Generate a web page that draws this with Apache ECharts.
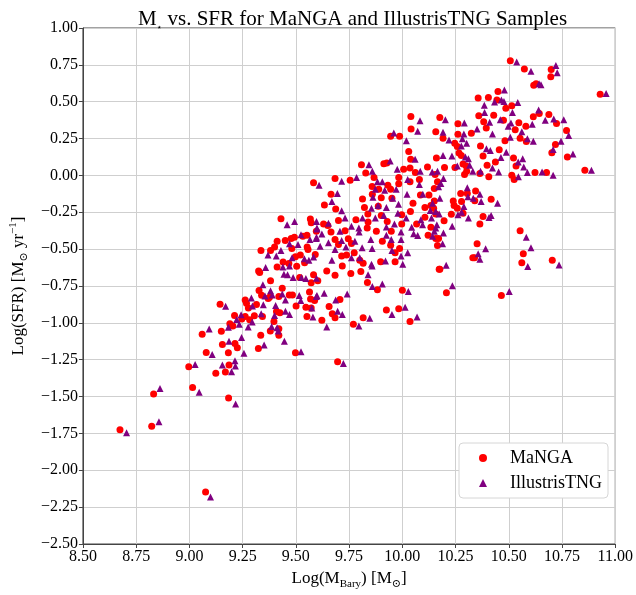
<!DOCTYPE html>
<html>
<head>
<meta charset="utf-8">
<script src="https://cdn.jsdelivr.net/npm/echarts@6/dist/echarts.min.js"></script>
<style>html,body{margin:0;padding:0;background:#fff}#c{width:636px;height:595px}</style>
</head>
<body>
<div id="c"></div>
<script>
const xTicks = [8.5, 8.75, 9.0, 9.25, 9.5, 9.75, 10.0, 10.25, 10.5, 10.75, 11.0];
const yTicks = [-2.5, -2.25, -2.0, -1.75, -1.5, -1.25, -1.0, -0.75, -0.5, -0.25, 0.0, 0.25, 0.5, 0.75, 1.0];
const seriesNames = ['MaNGA', 'IllustrisTNG'];

const manga = [
[8.674,-1.725],[8.823,-1.702],[8.832,-1.483],[8.997,-1.297],[9.015,-1.438],[9.076,-2.148],[9.060,-1.077],[9.079,-1.201],
[9.124,-1.342],[9.144,-0.874],[9.150,-1.057],[9.155,-1.147],[9.169,-1.333],[9.183,-1.203],[9.184,-1.510],[9.186,-1.286],
[9.190,-1.006],[9.204,-1.021],[9.212,-0.950],[9.214,-1.140],[9.225,-1.169],[9.246,-0.974],[9.262,-0.957],[9.262,-0.845],
[9.268,-0.867],[9.283,-0.979],[9.305,-0.952],
[9.583,-0.050],[9.430,-0.294],[9.568,-0.296],[9.572,-0.321],[9.412,-0.446],[9.450,-0.442],[9.478,-0.428],[9.493,-0.419],
[9.336,-0.509],[9.381,-0.509],[9.400,-0.486],[9.481,-0.496],[9.521,-0.540],[9.553,-0.486],[9.325,-0.648],[9.330,-0.659],
[9.412,-0.621],[9.440,-0.587],[9.381,-0.715],[9.467,-0.598],[9.498,-0.551],[9.504,-0.616],[9.518,-0.692],[9.572,-0.728],
[9.583,-0.674],[9.436,-0.766],[9.327,-0.780],[9.339,-0.813],[9.376,-0.827],[9.420,-0.822],[9.469,-0.811],[9.484,-0.811],
[9.564,-0.791],[9.588,-0.849],[9.315,-0.876],[9.370,-0.835],[9.277,-0.899],[9.409,-0.923],[9.425,-0.932],[9.501,-0.885],
[9.547,-0.894],[9.572,-0.899],[9.343,-0.957],[9.397,-0.990],[9.552,-0.957],[9.380,-1.055],[9.420,-1.040],[9.335,-1.084],
[9.420,-1.084],[9.324,-1.174],[9.498,-1.203],
[10.041,0.315],[10.157,0.297],[9.945,0.266],[9.987,0.266],[10.030,0.163],[10.039,0.109],[9.808,0.073],[9.913,0.080],
[9.927,0.085],[10.006,0.042],[10.036,0.051],[10.061,0.020],[10.118,0.058],[9.828,0.017],[9.867,-0.014],[9.983,-0.014],
[9.684,-0.021],[9.755,-0.032],[10.036,-0.043],[10.080,-0.028],[10.165,-0.043],[9.858,-0.075],[9.889,-0.093],[9.932,-0.066],
[9.945,-0.093],[9.983,-0.057],[9.859,-0.128],[9.665,-0.128],[9.813,-0.160],[9.901,-0.151],[9.951,-0.155],[10.085,-0.133],
[10.125,-0.133],[9.634,-0.200],[9.687,-0.227],[9.822,-0.218],[9.887,-0.209],[10.050,-0.189],[10.106,-0.218],[10.134,-0.204],
[9.838,-0.261],[9.901,-0.271],[9.997,-0.267],[10.038,-0.245],[10.106,-0.283],[10.157,-0.261],[9.700,-0.305],[9.782,-0.301],
[9.839,-0.316],[9.929,-0.312],[9.997,-0.330],[10.067,-0.330],[9.630,-0.330],[9.650,-0.339],[9.835,-0.357],[10.134,-0.352],
[9.731,-0.375],[9.878,-0.379],[9.948,-0.379],[9.596,-0.379],[9.665,-0.383],[10.121,-0.406],[10.170,-0.428],[9.552,-0.406],
[9.533,-0.413],[9.684,-0.435],[9.746,-0.430],[9.700,-0.469],[9.761,-0.462],[9.906,-0.446],[9.945,-0.473],[9.987,-0.496],
[9.557,-0.502],[9.591,-0.536],[9.715,-0.547],[9.800,-0.576],[9.816,-0.596],[9.898,-0.585],[9.966,-0.585],[9.966,-0.525],
[9.541,-0.592],[10.040,0.400],
[9.738,-0.540],[9.774,-0.525],[9.718,-0.614],[9.645,-0.648],[9.758,-0.666],[9.805,-0.652],[9.684,-0.677],[9.603,-0.715],
[9.836,-0.726],[9.883,-0.775],[10.000,-0.778],[9.569,-0.838],[9.707,-0.842],[9.656,-0.889],[9.671,-0.939],[9.684,-0.966],
[9.622,-0.983],[9.816,-0.966],[9.925,-0.912],[9.983,-0.905],[9.770,-1.010],[10.036,-0.990],[9.696,-1.263],[10.173,-0.636],
[10.507,0.778],[10.573,0.722],[10.699,0.718],[10.697,0.669],[10.617,0.612],[10.628,0.622],[10.449,0.570],[10.929,0.550],
[10.356,0.525],[10.404,0.528],[10.444,0.512],[10.486,0.456],[10.514,0.472],[10.643,0.420],[10.688,0.414],[10.176,0.393],
[10.615,0.398],[10.359,0.404],[10.429,0.409],[10.382,0.364],[10.475,0.375],[10.724,0.353],[10.261,0.351],[10.547,0.357],
[10.394,0.322],[10.580,0.333],[10.530,0.310],[10.324,0.286],[10.261,0.279],[10.771,0.304],[10.191,0.252],[10.553,0.252],
[10.482,0.236],[10.246,0.219],[10.582,0.230],[10.258,0.196],[10.367,0.199],[10.719,0.210],[10.455,0.174],[10.702,0.154],
[10.160,0.118],[10.379,0.132],[10.522,0.118],[10.775,0.125],[10.266,0.152],[10.277,0.136],[10.437,0.091],[10.285,0.078],
[10.198,0.053],[10.247,0.053],[10.300,0.064],[10.398,0.069],[10.534,0.064],[10.302,0.028],[10.364,0.013],[10.292,0.006],
[10.623,0.020],[10.677,0.020],[10.857,0.035],[10.514,0.001],[10.406,-0.009],
[10.154,0.006],[10.525,-0.028],[10.150,-0.088],[10.344,-0.106],[10.274,-0.122],[10.305,-0.122],[10.417,-0.162],[10.239,-0.173],
[10.278,-0.177],[10.340,-0.171],[10.150,-0.173],[10.243,-0.204],[10.258,-0.222],[10.147,-0.222],[10.230,-0.263],[10.285,-0.256],
[10.379,-0.278],[10.196,-0.308],[10.364,-0.330],[10.553,-0.375],[10.157,-0.428],[10.165,-0.475],[10.351,-0.464],[10.568,-0.531],
[10.331,-0.558],[10.339,-0.558],[10.561,-0.592],[10.704,-0.576],[10.176,-0.636],[10.207,-0.795],[10.465,-0.815]
];

const tng = [
[9.170,-0.887],[9.093,-1.042],[9.183,-1.030],[9.186,-1.124],[9.107,-1.214],[9.222,-0.977],[9.234,-1.010],[9.243,-0.945],
[9.245,-1.100],[9.256,-1.207],[9.291,-0.832],[9.296,-0.885],[9.276,-1.028],[9.295,-0.995],[9.027,-1.283],[9.155,-1.286],
[9.214,-1.257],[9.216,-1.292],[9.198,-1.331],[9.046,-1.471],[8.862,-1.445],[9.217,-1.550],[8.857,-1.671],[8.705,-1.745],
[9.099,-2.181],
[9.609,-0.066],[9.459,-0.334],[9.494,-0.312],[9.597,-0.312],[9.599,-0.363],[9.524,-0.402],[9.470,-0.464],[9.510,-0.469],
[9.566,-0.434],[9.597,-0.419],[9.369,-0.540],[9.408,-0.547],[9.430,-0.509],[9.482,-0.558],[9.540,-0.565],[9.561,-0.576],
[9.358,-0.625],[9.439,-0.621],[9.470,-0.614],[9.444,-0.670],[9.461,-0.674],[9.487,-0.692],[9.526,-0.692],[9.547,-0.699],
[9.597,-0.697],[9.345,-0.741],[9.381,-0.782],[9.389,-0.811],[9.355,-0.818],[9.436,-0.804],[9.451,-0.845],[9.516,-0.815],
[9.523,-0.849],[9.599,-0.815],[9.347,-0.878],[9.405,-0.883],[9.451,-0.921],[9.470,-0.943],[9.337,-0.939],[9.400,-0.950],
[9.386,-1.024],[9.412,-1.033],[9.417,-1.055],[9.351,-1.151],[9.446,-1.124],[9.524,-1.196],
[10.083,0.371],[10.072,0.300],[9.960,0.288],[10.019,0.236],[9.843,0.073],[9.943,0.098],[10.060,0.109],[9.859,0.028],
[9.976,0.042],[10.084,0.028],[10.140,0.024],[9.715,-0.039],[9.785,-0.014],[9.883,-0.043],[9.906,-0.043],[10.025,-0.028],
[10.080,-0.061],[10.170,-0.077],[9.873,-0.093],[9.917,-0.100],[9.971,-0.093],[9.695,-0.122],[9.862,-0.148],[9.955,-0.155],
[10.022,-0.128],[10.096,-0.128],[9.669,-0.177],[9.886,-0.204],[9.925,-0.218],[9.982,-0.195],[10.142,-0.189],[9.715,-0.240],
[9.855,-0.222],[9.979,-0.256],[10.131,-0.238],[9.731,-0.289],[9.813,-0.289],[9.873,-0.289],[9.913,-0.271],[10.018,-0.289],
[10.087,-0.301],[9.599,-0.357],[9.653,-0.325],[9.761,-0.345],[9.796,-0.357],[9.925,-0.350],[9.963,-0.330],[10.044,-0.352],
[10.095,-0.334],[10.162,-0.334],[9.622,-0.397],[9.707,-0.379],[9.797,-0.383],[9.925,-0.406],[9.994,-0.383],[10.053,-0.395],
[10.150,-0.379],[9.596,-0.428],[9.653,-0.457],[9.715,-0.442],[9.777,-0.446],[9.852,-0.435],[9.948,-0.435],[9.994,-0.435],
[10.072,-0.408],[9.614,-0.480],[9.684,-0.502],[9.735,-0.486],[9.811,-0.491],[9.858,-0.496],[9.951,-0.509],[10.025,-0.525],
[9.583,-0.554],[9.669,-0.576],[9.761,-0.558],[9.855,-0.603],[9.921,-0.580],[9.994,-0.547],
[9.800,-0.558],[9.858,-0.614],[9.839,-0.674],[9.906,-0.737],[9.859,-0.753],[9.741,-0.804],[9.687,-0.845],[9.633,-0.800],
[9.596,-0.822],[9.575,-0.899],[9.696,-0.921],[9.718,-0.943],[9.580,-0.961],[9.645,-1.028],[9.796,-1.021],[9.847,-0.968],
[9.951,-0.943],[10.013,-0.894],[10.028,-0.788],[10.002,-0.603],[10.069,-0.961],[9.723,-1.275],
[10.537,0.770],[10.604,0.707],[10.721,0.745],[10.727,0.696],[10.642,0.622],[10.651,0.615],[10.479,0.579],[10.957,0.555],
[10.465,0.512],[10.477,0.501],[10.433,0.498],[10.542,0.494],[10.385,0.476],[10.386,0.427],[10.517,0.427],[10.640,0.443],
[10.202,0.377],[10.291,0.355],[10.410,0.360],[10.460,0.377],[10.510,0.355],[10.671,0.375],[10.711,0.382],[10.758,0.377],
[10.191,0.293],[10.289,0.281],[10.351,0.315],[10.497,0.333],[10.561,0.297],[10.610,0.347],[10.781,0.270],[10.219,0.241],
[10.282,0.248],[10.423,0.281],[10.507,0.259],[10.587,0.248],[10.615,0.232],[10.745,0.232],[10.302,0.219],[10.277,0.199],
[10.395,0.181],[10.413,0.169],[10.488,0.158],[10.708,0.176],[10.801,0.145],[10.191,0.136],[10.233,0.132],[10.296,0.125],
[10.310,0.113],[10.463,0.122],[10.565,0.113],[10.544,0.091],[10.258,0.064],[10.316,0.069],[10.423,0.051],[10.570,0.058],
[10.165,0.028],[10.331,0.028],[10.367,0.028],[10.452,0.024],[10.587,0.020],[10.656,0.024],[10.888,0.035],[10.708,0.001],
[10.545,-0.009],
[10.193,-0.021],[10.181,-0.054],[10.305,-0.084],[10.364,-0.128],[10.176,-0.155],[10.308,-0.144],[10.333,-0.155],[10.370,-0.177],
[10.447,-0.189],[10.289,-0.211],[10.157,-0.245],[10.173,-0.261],[10.261,-0.267],[10.278,-0.249],[10.137,-0.289],[10.417,-0.271],
[10.407,-0.285],[10.310,-0.289],[10.234,-0.345],[10.157,-0.357],[10.193,-0.390],[10.142,-0.413],[10.189,-0.464],[10.582,-0.419],
[10.604,-0.491],[10.391,-0.498],[10.356,-0.531],[10.364,-0.569],[10.589,-0.617],[10.736,-0.607],[10.206,-0.610],[10.235,-0.748],
[10.502,-0.788]
];

const FONT = '"Liberation Serif", "DejaVu Serif", serif';
const fmt = v => (v < 0 ? '\u2212' : '') + Math.abs(v).toFixed(2);

const chart = echarts.init(document.getElementById('c'), null, {renderer: 'canvas'});
chart.setOption({
  animation: false,
  backgroundColor: '#ffffff',
  title: {
    text: '{a|M}{s|\u22c6}{a| vs. SFR for MaNGA and IllustrisTNG Samples}',
    left: 347.5, textAlign: 'center', top: 2,
    textStyle: {
      rich: {
        a: {fontFamily: FONT, fontSize: 21, fontWeight: 'normal', color: '#000', lineHeight: 25},
        s: {fontFamily: '"DejaVu Sans", sans-serif', fontSize: 9, fontWeight: 'normal', color: '#000', lineHeight: 11, verticalAlign: 'bottom'}
      }
    }
  },
  grid: {left: 79, right: 20, top: 28, bottom: 46, show: true, borderColor: '#444', borderWidth: 1, backgroundColor: 'transparent'},
  legend: {
    data: [
      {name: seriesNames[0], icon: 'circle'},
      {name: seriesNames[1], icon: 'triangle'}
    ],
    orient: 'vertical', right: 28, top: 443,
    itemWidth: 8, itemHeight: 8, itemGap: 5,
    padding: [5, 6, 5, 20],
    backgroundColor: '#ffffff', borderColor: '#d6d6d6', borderWidth: 1, borderRadius: 4,
    textStyle: {fontFamily: FONT, fontSize: 18, color: '#000', lineHeight: 20, padding: [0, 0, 0, 18]}
  },
  xAxis: {
    type: 'value', min: 8.5, max: 11.0, interval: 0.25,
    name: '{a|Log(M}{s|Bary}{a|) [M}{s|\u2299}{a|]}',
    nameLocation: 'middle', nameGap: 24,
    nameTextStyle: {
      rich: {
        a: {fontFamily: FONT, fontSize: 17, color: '#000', lineHeight: 22},
        s: {fontFamily: FONT, fontSize: 11, color: '#000', lineHeight: 12, verticalAlign: 'bottom'}
      }
    },
    axisLine: {show: true, onZero: false, lineStyle: {color: '#444', width: 1}},
    axisTick: {show: true, length: 4, lineStyle: {color: '#444'}},
    axisLabel: {fontFamily: FONT, fontSize: 16, color: '#000', margin: 5, formatter: fmt},
    splitLine: {show: true, lineStyle: {color: '#cfcfcf', width: 1}}
  },
  yAxis: {
    type: 'value', min: -2.5, max: 1.0, interval: 0.25,
    name: '{a|Log(SFR) [M}{s|\u2299}{a| yr}{p|\u22121}{a|]}',
    nameLocation: 'middle', nameGap: 52, nameRotate: 90,
    nameTextStyle: {
      rich: {
        a: {fontFamily: FONT, fontSize: 17, color: '#000', lineHeight: 22},
        s: {fontFamily: FONT, fontSize: 11, color: '#000', lineHeight: 12, verticalAlign: 'bottom'},
        p: {fontFamily: FONT, fontSize: 11, color: '#000', lineHeight: 12, verticalAlign: 'top'}
      }
    },
    axisLine: {show: true, onZero: false, lineStyle: {color: '#444', width: 1}},
    axisTick: {show: true, length: 4, lineStyle: {color: '#444'}},
    axisLabel: {fontFamily: FONT, fontSize: 16, color: '#000', margin: 5, formatter: fmt},
    splitLine: {show: true, lineStyle: {color: '#cfcfcf', width: 1}}
  },
  series: [
    {name: seriesNames[0], type: 'scatter', data: manga, symbol: 'circle', symbolSize: 7,
     itemStyle: {color: '#ff0000', opacity: 1}, z: 2},
    {name: seriesNames[1], type: 'scatter', data: tng, symbol: 'triangle', symbolSize: 7,
     itemStyle: {color: '#800080', opacity: 1}, z: 3}
  ]
});
</script>
</body>
</html>
